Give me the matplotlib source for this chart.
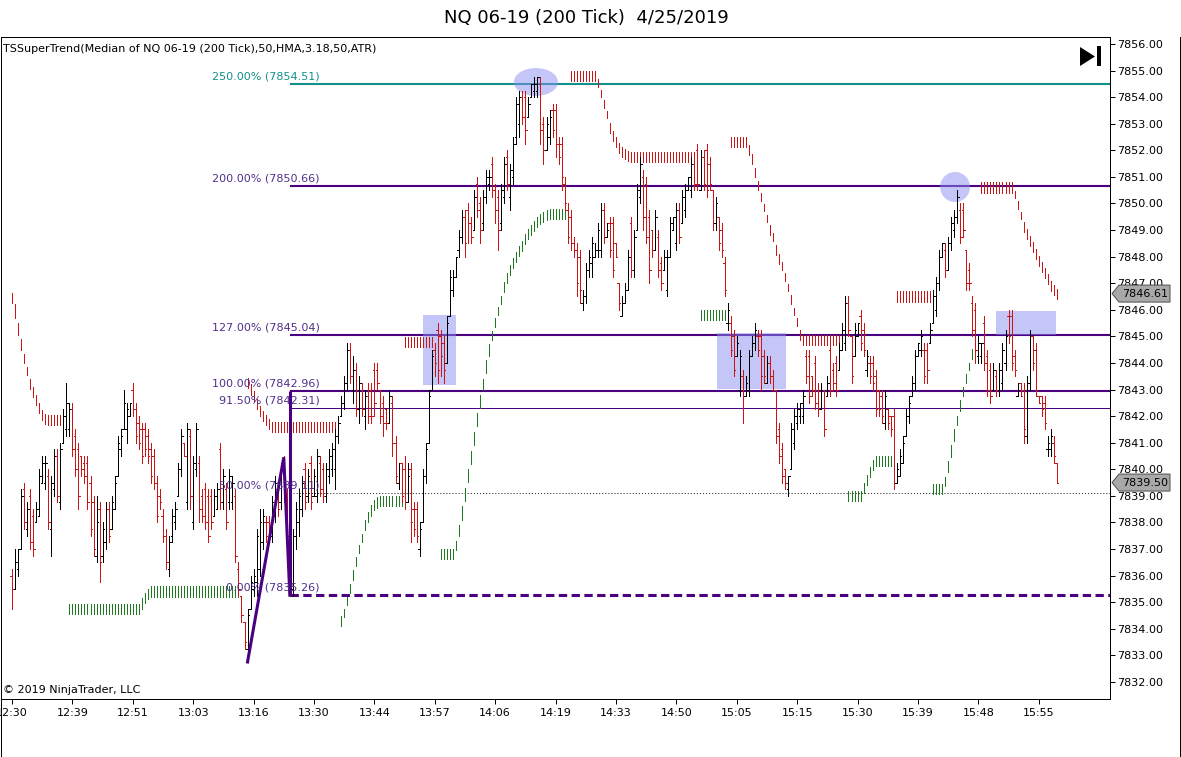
import numpy as np
import matplotlib.pyplot as plt
from matplotlib.collections import LineCollection
from matplotlib.patches import Rectangle, Ellipse, Polygon
from matplotlib.lines import Line2D
from matplotlib.transforms import blended_transform_factory

W, H = 1181, 757
plt.rcParams['font.family'] = ['DejaVu Sans']
plt.rcParams['lines.scale_dashes'] = False

# ---- 200 tick bars (open, high, low, close) ----
opens = [
    7836.0, 7835.5, 7836.25, 7837.0, 7839.25, 7837.75, 7839.0, 7838.25, 7838.0, 7838.25,
    7839.5, 7839.5, 7839.75, 7837.75, 7839.25, 7840.5, 7838.75, 7841.0, 7841.5, 7841.5,
    7842.25, 7841.25, 7840.75, 7840.5, 7840.25, 7840.25, 7839.5, 7838.75, 7836.75, 7838.5,
    7836.75, 7837.25, 7838.5, 7837.75, 7838.5, 7839.75, 7840.75, 7841.5, 7841.5, 7842.0,
    7843.0, 7842.25, 7841.75, 7841.5, 7841.5, 7841.25, 7840.75, 7840.5, 7839.5, 7839.0,
    7838.25, 7837.5, 7836.25, 7837.5, 7838.0, 7839.0, 7840.0, 7841.0, 7838.75, 7841.25,
    7838.0, 7840.0, 7840.25, 7839.0, 7839.25, 7839.0, 7839.0, 7838.25, 7838.5, 7840.75,
    7838.75, 7839.25, 7838.75, 7838.75, 7839.0, 7836.25, 7835.25, 7834.25, 7833.25, 7834.75,
    7835.5, 7835.75, 7836.25, 7837.25, 7838.0, 7838.0, 7837.5, 7838.25, 7839.25, 7838.75,
    7840.25, 7839.0, 7837.5, 7835.5, 7837.5, 7838.0, 7838.5, 7840.0, 7839.0, 7840.25,
    7839.0, 7839.0, 7840.25, 7840.0, 7839.0, 7839.75, 7840.0, 7840.0, 7841.25, 7842.0,
    7842.5, 7843.25, 7844.5, 7843.0, 7843.75, 7842.25, 7843.0, 7842.0, 7842.75, 7843.0,
    7843.75, 7843.75, 7843.0, 7842.5, 7842.25, 7841.75, 7842.5, 7841.0, 7839.5, 7840.25,
    7840.0, 7838.75, 7840.0, 7838.5, 7838.5, 7837.0, 7838.0, 7839.75, 7841.0, 7843.0,
    7844.5, 7845.25, 7845.0, 7844.75, 7844.0, 7845.75, 7846.75, 7847.25, 7848.25, 7848.75,
    7849.5, 7849.75, 7849.25, 7849.0, 7850.75, 7850.0, 7849.25, 7850.25, 7850.75, 7851.5,
    7850.5, 7850.25, 7849.25, 7850.25, 7851.75, 7850.25, 7851.0, 7852.5, 7853.0, 7854.0,
    7854.0, 7853.25, 7854.0, 7854.25, 7854.25, 7854.5, 7853.0, 7852.0, 7852.5, 7853.5,
    7853.5, 7852.25, 7852.25, 7850.75, 7849.75, 7849.5, 7848.5, 7848.25, 7848.0, 7846.25,
    7846.5, 7847.5, 7847.75, 7848.0, 7848.25, 7848.25, 7849.75, 7848.75, 7849.25, 7849.25,
    7848.5, 7847.0, 7845.75, 7846.25, 7846.75, 7849.25, 7847.5, 7849.0, 7850.25, 7851.0,
    7850.75, 7849.5, 7849.0, 7848.25, 7848.75, 7847.75, 7847.5, 7846.75, 7848.0, 7849.0,
    7848.5, 7849.75, 7849.25, 7849.75, 7850.5, 7850.5, 7851.5, 7852.0, 7850.5, 7851.75,
    7852.0, 7851.5, 7850.5, 7849.25, 7849.5, 7849.0, 7847.75, 7845.5, 7845.5, 7845.0,
    7844.25, 7843.0, 7843.5, 7842.75, 7843.0, 7844.25, 7844.75, 7845.0, 7845.0, 7844.25,
    7843.25, 7844.0, 7843.5, 7843.0, 7841.5, 7840.75, 7840.0, 7839.25, 7840.0, 7841.0,
    7841.75, 7842.0, 7842.0, 7844.25, 7844.25, 7843.5, 7844.0, 7843.0, 7842.25, 7843.0,
    7842.75, 7844.5, 7843.75, 7844.0, 7843.75, 7844.5, 7844.75, 7846.25, 7845.0, 7844.25,
    7845.0, 7845.75, 7845.25, 7843.75, 7844.0, 7844.0, 7843.5, 7843.0, 7842.75, 7841.75,
    7842.25, 7842.0, 7842.0, 7839.5, 7839.75, 7840.25, 7841.25, 7842.0, 7842.75, 7843.25,
    7844.25, 7844.5, 7844.5, 7844.5, 7844.75, 7845.5, 7846.0, 7847.0, 7848.0, 7848.25,
    7847.5, 7848.5, 7849.0, 7849.5, 7849.75, 7849.75, 7848.25, 7847.5, 7846.25, 7846.0,
    7844.25, 7844.25, 7845.5, 7844.25, 7843.75, 7843.0, 7843.5, 7843.0, 7843.25, 7844.0,
    7845.75, 7845.75, 7844.25, 7842.75, 7843.25, 7843.0, 7841.25, 7843.25, 7845.0, 7844.5,
    7842.75, 7842.75, 7842.5, 7840.75, 7840.75, 7841.0, 7840.25,
]
highs = [
    7836.25, 7837.0, 7837.0, 7839.25, 7839.5, 7838.75, 7839.25, 7838.5, 7838.75, 7840.0,
    7840.5, 7840.5, 7840.0, 7839.75, 7840.75, 7840.75, 7841.0, 7842.25, 7843.25, 7842.5,
    7842.5, 7841.5, 7841.0, 7840.5, 7840.5, 7840.5, 7839.75, 7839.0, 7839.0, 7838.75,
    7838.0, 7838.75, 7838.75, 7839.0, 7839.75, 7841.25, 7841.5, 7843.0, 7842.5, 7842.5,
    7843.25, 7842.5, 7842.0, 7841.75, 7841.75, 7841.5, 7841.0, 7840.75, 7839.75, 7839.25,
    7838.5, 7837.75, 7837.5, 7838.5, 7838.75, 7840.25, 7841.5, 7841.0, 7841.75, 7841.5,
    7840.5, 7841.75, 7840.5, 7839.25, 7839.5, 7839.25, 7839.25, 7839.25, 7839.5, 7841.0,
    7840.0, 7839.5, 7840.0, 7839.75, 7839.25, 7836.5, 7835.25, 7834.25, 7834.75, 7836.0,
    7836.25, 7837.75, 7838.5, 7838.5, 7838.25, 7838.25, 7839.0, 7839.75, 7839.5, 7840.25,
    7840.5, 7839.25, 7838.0, 7837.75, 7838.75, 7839.25, 7839.75, 7840.25, 7840.0, 7840.5,
    7840.0, 7840.75, 7840.5, 7840.25, 7840.25, 7840.75, 7841.0, 7841.5, 7842.0, 7842.75,
    7843.5, 7844.75, 7844.75, 7844.25, 7844.0, 7843.5, 7843.25, 7843.0, 7843.25, 7843.25,
    7844.0, 7844.0, 7843.0, 7842.75, 7842.25, 7843.0, 7842.75, 7841.25, 7840.25, 7840.25,
    7840.5, 7840.25, 7840.25, 7838.75, 7838.75, 7838.0, 7840.0, 7841.0, 7843.0, 7844.5,
    7844.75, 7845.5, 7845.25, 7845.0, 7845.75, 7847.5, 7847.5, 7848.0, 7849.0, 7849.75,
    7849.75, 7850.0, 7849.5, 7850.5, 7851.0, 7850.25, 7850.5, 7851.25, 7851.25, 7851.75,
    7850.75, 7850.5, 7850.75, 7851.75, 7852.0, 7851.5, 7852.5, 7854.0, 7854.25, 7854.25,
    7854.25, 7854.0, 7854.5, 7854.75, 7854.75, 7854.75, 7853.25, 7853.25, 7853.5, 7853.75,
    7853.75, 7852.5, 7852.5, 7851.0, 7850.0, 7849.75, 7848.75, 7848.5, 7848.25, 7846.75,
    7847.75, 7848.25, 7848.75, 7848.5, 7849.25, 7850.0, 7850.0, 7849.25, 7849.5, 7849.5,
    7848.5, 7847.0, 7846.5, 7847.0, 7848.25, 7849.5, 7849.0, 7850.75, 7851.75, 7851.25,
    7851.0, 7849.75, 7849.0, 7849.75, 7849.0, 7848.0, 7848.25, 7848.25, 7849.5, 7849.5,
    7850.0, 7850.0, 7850.5, 7850.75, 7851.0, 7851.75, 7851.75, 7852.25, 7852.0, 7852.0,
    7852.25, 7851.75, 7850.5, 7850.25, 7849.5, 7849.25, 7848.0, 7846.25, 7845.75, 7845.25,
    7845.0, 7844.5, 7843.75, 7843.5, 7844.5, 7845.0, 7845.5, 7845.25, 7845.25, 7844.5,
    7844.25, 7844.25, 7843.75, 7843.0, 7841.75, 7841.0, 7840.0, 7839.75, 7841.75, 7842.25,
    7842.5, 7842.5, 7843.0, 7844.5, 7844.5, 7843.5, 7844.25, 7843.25, 7843.25, 7843.0,
    7843.5, 7844.75, 7844.0, 7844.25, 7844.75, 7845.5, 7846.5, 7846.5, 7845.0, 7845.5,
    7845.5, 7846.0, 7845.5, 7844.5, 7844.25, 7844.25, 7843.75, 7843.0, 7843.0, 7843.0,
    7842.25, 7842.0, 7842.25, 7840.25, 7840.75, 7841.25, 7842.25, 7842.75, 7843.5, 7844.5,
    7844.75, 7845.25, 7844.75, 7844.75, 7845.5, 7846.75, 7847.25, 7848.25, 7848.5, 7848.5,
    7848.75, 7849.5, 7849.75, 7850.5, 7850.0, 7850.0, 7848.25, 7847.75, 7846.5, 7846.25,
    7845.0, 7844.75, 7845.75, 7844.5, 7844.0, 7844.0, 7843.75, 7844.0, 7844.75, 7845.25,
    7846.0, 7846.0, 7844.5, 7843.25, 7843.25, 7843.25, 7843.5, 7845.25, 7845.0, 7844.75,
    7842.75, 7842.75, 7842.75, 7841.25, 7841.5, 7841.25, 7840.25,
]
lows = [
    7834.75, 7835.5, 7836.0, 7837.0, 7837.75, 7837.5, 7837.0, 7836.75, 7838.0, 7838.25,
    7839.5, 7839.25, 7837.75, 7836.75, 7839.0, 7838.75, 7838.5, 7841.0, 7841.25, 7841.25,
    7840.5, 7839.75, 7838.5, 7839.75, 7839.5, 7838.5, 7837.5, 7836.75, 7836.5, 7835.75,
    7836.5, 7837.0, 7837.25, 7837.75, 7838.5, 7839.75, 7840.5, 7841.5, 7841.0, 7842.0,
    7842.0, 7841.0, 7840.75, 7840.25, 7840.5, 7840.25, 7839.5, 7839.25, 7838.0, 7838.5,
    7837.25, 7836.25, 7836.0, 7837.25, 7837.75, 7839.0, 7839.75, 7840.5, 7838.5, 7838.5,
    7837.75, 7839.75, 7838.0, 7838.0, 7837.75, 7837.25, 7837.75, 7838.25, 7838.5, 7838.5,
    7838.5, 7837.75, 7838.5, 7838.5, 7836.5, 7835.25, 7834.25, 7833.25, 7832.75, 7834.75,
    7835.25, 7835.25, 7836.0, 7837.0, 7837.25, 7837.25, 7837.25, 7838.0, 7838.25, 7838.5,
    7838.75, 7837.25, 7835.25, 7835.25, 7837.0, 7837.5, 7838.25, 7838.5, 7838.75, 7838.5,
    7839.0, 7838.75, 7839.0, 7838.75, 7838.75, 7839.5, 7839.75, 7839.25, 7841.0, 7842.0,
    7842.25, 7843.0, 7843.25, 7842.5, 7842.0, 7841.75, 7842.0, 7841.5, 7841.75, 7841.75,
    7842.0, 7843.0, 7841.75, 7841.25, 7841.5, 7841.75, 7840.5, 7839.5, 7839.25, 7838.75,
    7838.5, 7838.75, 7837.25, 7837.5, 7837.25, 7836.75, 7838.0, 7839.5, 7841.0, 7843.0,
    7843.5, 7843.25, 7843.5, 7843.25, 7844.0, 7845.75, 7846.5, 7847.25, 7848.0, 7848.5,
    7848.0, 7848.5, 7848.5, 7849.0, 7849.5, 7848.5, 7849.0, 7850.0, 7850.5, 7850.25,
    7849.25, 7848.25, 7849.0, 7850.0, 7850.5, 7849.75, 7850.75, 7852.25, 7852.5, 7853.0,
    7852.25, 7853.25, 7854.0, 7854.0, 7854.0, 7852.25, 7851.5, 7852.0, 7852.25, 7852.5,
    7851.75, 7851.5, 7850.5, 7849.75, 7848.5, 7848.25, 7848.0, 7846.5, 7846.25, 7846.0,
    7846.25, 7847.25, 7847.25, 7848.0, 7848.0, 7848.0, 7848.5, 7848.75, 7848.0, 7847.25,
    7848.0, 7846.0, 7845.75, 7846.25, 7846.75, 7847.25, 7847.25, 7849.0, 7850.0, 7849.0,
    7848.5, 7847.0, 7848.0, 7848.25, 7847.25, 7846.75, 7847.5, 7846.5, 7848.0, 7849.0,
    7848.25, 7848.5, 7849.25, 7849.5, 7850.5, 7850.25, 7850.5, 7850.5, 7850.5, 7850.5,
    7850.25, 7850.5, 7849.0, 7849.0, 7848.25, 7848.0, 7846.5, 7845.25, 7844.25, 7843.5,
    7844.25, 7842.75, 7841.75, 7842.75, 7842.75, 7844.25, 7844.5, 7844.25, 7843.0, 7843.25,
    7843.25, 7843.25, 7843.0, 7841.0, 7840.25, 7839.5, 7839.25, 7839.0, 7840.0, 7840.75,
    7841.5, 7841.75, 7841.75, 7843.25, 7842.5, 7842.75, 7842.25, 7842.0, 7842.25, 7841.25,
    7842.75, 7842.75, 7843.0, 7842.75, 7843.75, 7844.5, 7844.5, 7845.0, 7843.25, 7844.25,
    7845.0, 7844.5, 7844.25, 7843.5, 7843.25, 7843.0, 7842.0, 7842.0, 7841.75, 7841.5,
    7841.5, 7841.25, 7839.25, 7839.5, 7839.75, 7840.25, 7841.25, 7841.75, 7842.75, 7843.0,
    7844.25, 7844.25, 7843.25, 7843.25, 7844.75, 7845.5, 7845.75, 7846.75, 7848.0, 7847.25,
    7847.5, 7848.25, 7848.75, 7849.25, 7848.5, 7848.75, 7846.75, 7846.75, 7845.0, 7844.0,
    7844.0, 7844.0, 7843.75, 7842.75, 7842.5, 7843.0, 7842.75, 7842.75, 7843.0, 7843.75,
    7844.75, 7843.75, 7843.5, 7842.75, 7842.75, 7841.0, 7841.0, 7843.0, 7843.75, 7842.75,
    7842.5, 7842.0, 7841.5, 7840.5, 7840.5, 7840.25, 7839.5,
]
closes = [
    7835.5, 7836.5, 7837.0, 7839.0, 7838.0, 7838.5, 7837.25, 7837.0, 7838.5, 7839.75,
    7840.25, 7840.25, 7838.0, 7839.5, 7840.5, 7839.0, 7840.75, 7842.0, 7842.5, 7842.25,
    7840.75, 7840.0, 7839.0, 7840.0, 7839.75, 7838.75, 7837.75, 7837.0, 7838.0, 7836.5,
    7837.75, 7838.5, 7837.5, 7838.75, 7839.5, 7841.0, 7841.25, 7842.5, 7842.25, 7842.5,
    7842.25, 7841.25, 7841.0, 7840.5, 7840.75, 7840.5, 7839.75, 7839.5, 7838.25, 7838.75,
    7837.5, 7836.5, 7837.25, 7838.25, 7838.5, 7840.0, 7841.25, 7840.5, 7841.5, 7839.0,
    7840.25, 7841.5, 7838.5, 7838.25, 7838.0, 7837.5, 7838.0, 7839.0, 7839.25, 7838.75,
    7839.75, 7838.0, 7839.75, 7839.5, 7836.75, 7835.5, 7834.5, 7833.5, 7834.5, 7835.75,
    7836.0, 7837.5, 7838.0, 7838.25, 7837.5, 7837.5, 7838.75, 7839.5, 7838.5, 7840.0,
    7839.0, 7837.5, 7835.5, 7837.5, 7838.5, 7839.0, 7839.5, 7838.75, 7839.75, 7838.75,
    7839.75, 7840.5, 7839.25, 7839.0, 7840.0, 7840.5, 7840.75, 7841.25, 7841.75, 7842.5,
    7843.25, 7844.5, 7843.5, 7843.75, 7842.25, 7843.25, 7842.25, 7842.75, 7842.0, 7842.0,
    7842.5, 7843.25, 7842.0, 7841.75, 7841.75, 7842.75, 7841.0, 7839.75, 7840.25, 7839.0,
    7838.75, 7839.75, 7838.0, 7837.75, 7837.5, 7837.75, 7839.75, 7840.75, 7842.75, 7844.25,
    7844.0, 7843.75, 7844.25, 7843.75, 7845.5, 7847.25, 7847.25, 7848.0, 7848.75, 7849.5,
    7848.5, 7849.25, 7848.75, 7850.25, 7849.75, 7849.0, 7850.25, 7851.0, 7851.0, 7850.5,
    7849.75, 7849.0, 7850.5, 7851.5, 7850.75, 7851.25, 7852.25, 7853.75, 7854.0, 7853.25,
    7852.75, 7853.75, 7854.5, 7854.5, 7854.75, 7852.75, 7852.0, 7853.0, 7853.25, 7852.75,
    7852.25, 7851.75, 7851.0, 7850.0, 7848.75, 7848.5, 7848.25, 7847.0, 7846.75, 7846.5,
    7847.5, 7848.0, 7848.5, 7848.25, 7849.0, 7849.75, 7848.75, 7849.0, 7848.25, 7847.5,
    7848.0, 7846.25, 7846.25, 7846.75, 7848.0, 7847.5, 7848.75, 7850.5, 7851.5, 7849.5,
    7848.75, 7847.5, 7848.25, 7849.5, 7847.5, 7847.0, 7848.0, 7848.0, 7849.25, 7849.5,
    7849.75, 7848.75, 7850.25, 7850.5, 7851.0, 7851.5, 7850.75, 7850.75, 7851.75, 7850.75,
    7850.5, 7850.75, 7849.25, 7850.0, 7848.5, 7848.25, 7846.75, 7846.0, 7844.5, 7843.75,
    7844.75, 7844.25, 7842.75, 7843.25, 7844.25, 7844.75, 7845.25, 7844.5, 7843.5, 7843.5,
    7844.0, 7843.5, 7843.0, 7841.25, 7840.5, 7839.75, 7839.5, 7839.75, 7841.5, 7842.0,
    7842.25, 7842.5, 7842.75, 7843.5, 7842.75, 7843.0, 7842.5, 7842.25, 7843.0, 7841.5,
    7843.25, 7843.0, 7843.25, 7843.0, 7844.5, 7845.25, 7846.25, 7845.25, 7843.5, 7845.25,
    7845.5, 7844.75, 7844.5, 7844.25, 7843.5, 7843.25, 7842.25, 7842.25, 7842.0, 7842.75,
    7841.75, 7841.5, 7839.5, 7840.0, 7840.5, 7841.0, 7842.0, 7842.5, 7843.25, 7844.25,
    7844.75, 7845.0, 7843.5, 7843.75, 7845.25, 7846.5, 7847.0, 7848.0, 7848.5, 7847.5,
    7848.5, 7849.25, 7849.5, 7850.25, 7848.75, 7849.0, 7847.0, 7847.0, 7845.25, 7844.5,
    7844.75, 7844.75, 7844.0, 7843.0, 7842.75, 7843.75, 7843.0, 7843.75, 7844.5, 7845.0,
    7845.0, 7844.0, 7843.75, 7843.25, 7842.75, 7841.5, 7843.25, 7845.0, 7844.0, 7843.0,
    7842.5, 7842.25, 7841.75, 7841.0, 7841.25, 7840.5, 7839.5,
]

# ---- TSSuperTrend runs: (side, first bar, values) ----
st_dn1 = [7846.45, 7845.7, 7845.05, 7844.5, 7844.0, 7843.55, 7843.2, 7842.9, 7842.6,
          7842.3, 7842.05, 7841.9, 7841.85, 7841.85, 7841.85, 7841.85, 7841.85]
st_up1 = [7834.75] * 24 + [7834.95, 7835.15, 7835.3] + [7835.4] * 30
st_dn2 = [7843.25, 7843.0, 7842.75, 7842.45, 7842.2, 7842.0, 7841.85, 7841.7] + [7841.6] * 22
st_up2 = [7834.3, 7834.75, 7835.2, 7835.7, 7836.2, 7836.7, 7837.15, 7837.55, 7837.9,
          7838.2, 7838.45, 7838.65, 7838.75] + [7838.8] * 8
st_dn3 = [7844.8] * 10
st_up3 = [7836.8] * 5 + [7837.3, 7837.9, 7838.6, 7839.3, 7840.0, 7840.7, 7841.4, 7842.1,
          7842.8, 7843.4, 7844.1, 7844.7, 7845.2, 7845.7, 7846.1, 7846.5, 7846.85, 7847.2,
          7847.5, 7847.75, 7848.0, 7848.2, 7848.4, 7848.65, 7848.85, 7849.0, 7849.15,
          7849.3, 7849.4, 7849.5, 7849.55] + [7849.6] * 7
st_dn4 = [7854.8] * 9 + [7854.4, 7854.0, 7853.6, 7853.2, 7852.85, 7852.55, 7852.3, 7852.1,
          7851.95, 7851.85, 7851.8] + [7851.75] * 23
st_up4 = [7845.8] * 9
st_dn5 = [7852.3] * 6 + [7852.0, 7851.5, 7851.0, 7850.5, 7850.1, 7849.7, 7849.3, 7849.0,
          7848.6, 7848.25, 7847.9, 7847.5, 7847.1, 7846.7, 7846.2, 7845.8, 7845.4,
          7845.05] + [7844.85] * 15
st_up5 = [7839.0] * 5 + [7839.3, 7839.6, 7839.9, 7840.15] + [7840.3] * 7
st_dn6 = [7846.5] * 12
st_up6 = [7839.25] * 4 + [7839.7, 7840.3, 7840.9, 7841.5, 7842.0, 7842.6, 7843.1, 7843.6,
          7844.0, 7844.35, 7844.6]
st_dn7 = [7850.6] * 11 + [7850.2, 7849.8, 7849.4, 7849.1, 7848.85, 7848.6, 7848.35, 7848.1,
          7847.85, 7847.6, 7847.4, 7847.15, 7846.9, 7846.75, 7846.61]
st_runs = [("dn", 0, st_dn1), ("up", 19, st_up1), ("dn", 78, st_dn2), ("up", 109, st_up2),
           ("dn", 130, st_dn3), ("up", 142, st_up3), ("dn", 185, st_dn4), ("up", 228, st_up4),
           ("dn", 238, st_dn5), ("up", 277, st_up5), ("dn", 293, st_dn6), ("up", 305, st_up6),
           ("dn", 321, st_dn7)]

# ---- Fibonacci extension (zigzag A-B-C) ----
zz_bars = [78, 90, 92]
zz_prices = [7832.75, 7840.45, 7835.26]
fib_base = 7835.26
fib_range = 7.70
fib_pcts = [2.5, 2.0, 1.27, 1.0, 0.915, 0.5, 0.0]

# ---- drawn markup: rectangles (bar0, bar1, price0, price1), ellipses (bar, price, w, h) ----
boxes = [(136.1, 147.0, 7843.17, 7845.8), (233.4, 256.3, 7843.02, 7845.13),
         (325.8, 345.7, 7845.05, 7845.95)]
circles = [(173.5, 7854.57, 14.6, 1.05), (312.3, 7850.62, 9.9, 1.13)]

time_labels = ["12:30", "12:39", "12:51", "13:03", "13:16", "13:30", "13:44", "13:57",
               "14:06", "14:19", "14:33", "14:50", "15:05", "15:15", "15:30", "15:39",
               "15:48", "15:55"]
price_ticks = list(range(7832, 7857))

RED = '#cc1414'
GREEN = '#1f7a1f'
INDIGO = '#4b0082'
TEAL = '#14908a'
LABEL_PURPLE = '#50308c'
PX = 0.72  # one pixel in points

o = np.array(opens); h = np.array(highs); l = np.array(lows); c = np.array(closes)
x = np.arange(len(c))

fig = plt.figure(figsize=(W / 100, H / 100), dpi=100)
ax = fig.add_axes([1 / W, 1 - 699 / H, 1109 / W, 662 / H])
ax.set_xlim(-3.64, 363.6)
ax.set_ylim(7831.357, 7856.263)

# bars
cols = [('black' if cc >= oo else RED) for oo, cc in zip(o, c)]
tk = 0.5
segs = []
seg_cols = []
for i in range(len(c)):
    segs += [[(x[i], l[i]), (x[i], h[i])], [(x[i] - tk, o[i]), (x[i], o[i])],
             [(x[i], c[i]), (x[i] + tk, c[i])]]
    seg_cols += [cols[i]] * 3
ax.add_collection(LineCollection(segs, colors=seg_cols, linewidths=PX, zorder=4,
                                 antialiaseds=False))

# supertrend
for side, start, vals in st_runs:
    ss = []
    for k, v in enumerate(vals):
        xb = start + k
        if k > 0 and abs(vals[k - 1] - v) > 0.38:
            ss.append([(xb, v), (xb, v + (vals[k - 1] - v) * 0.7)])
        else:
            ss.append([(xb, v - 0.19), (xb, v + 0.19)])
    ax.add_collection(LineCollection(ss, colors=RED if side == "dn" else GREEN,
                                     linewidths=PX, zorder=3, antialiaseds=False))

# fib lines
x0 = zz_bars[-1]
x1 = 364
for p in fib_pcts:
    lev = fib_base + p * fib_range
    if p == 2.5:
        ax.hlines(lev, x0, x1, colors=TEAL, linewidth=1.5, zorder=2)
        col = TEAL
    elif p == 0.915:
        ax.hlines(lev, x0, x1, colors=INDIGO, linewidth=PX, zorder=2)
        col = LABEL_PURPLE
    elif p == 0.5:
        ax.plot([x0, x1], [lev, lev], color='#333333', linewidth=PX,
                dashes=(0.8, 1.4), zorder=2)
        col = LABEL_PURPLE
    elif p == 0.0:
        ax.plot([x0, x1], [lev, lev], color=INDIGO, linewidth=2.2,
                dashes=(6, 3.2), zorder=2)
        col = LABEL_PURPLE
    else:
        ax.hlines(lev, x0, x1, colors=INDIGO, linewidth=1.5, zorder=2)
        col = LABEL_PURPLE
    ax.text(x0 + 9.9, lev + 0.09, "%.2f%% (%.2f)" % (p * 100, lev), color=col,
            fontsize=8, ha='right', va='bottom', zorder=6)

ax.plot([x0, x0], [fib_base, fib_base + fib_range], color=INDIGO, linewidth=2.2, zorder=5,
        solid_capstyle='butt')
ax.plot(zz_bars, zz_prices, color=INDIGO, linewidth=2.2, zorder=5, solid_joinstyle='miter')

for b0, b1, p0, p1 in boxes:
    ax.add_patch(Rectangle((b0, p0), b1 - b0, p1 - p0, facecolor='#8a8ff0', alpha=0.5,
                           edgecolor='none', zorder=2.5))
for bc, pc, bw, ph in circles:
    ax.add_patch(Ellipse((bc, pc), bw, ph, facecolor='#8a8ff0', alpha=0.5,
                         edgecolor='none', zorder=2.5))

# axes styling
for s in ax.spines.values():
    s.set_linewidth(PX)
ax.yaxis.tick_right()
ax.set_yticks(price_ticks)
ax.set_yticklabels(["%.2f" % p for p in price_ticks])
ax.set_xticks(np.arange(0, 20 * len(time_labels), 20))
ax.set_xticklabels(time_labels)
ax.tick_params(axis='y', direction='out', length=3.6, width=PX, labelsize=8, pad=1.5)
ax.tick_params(axis='x', direction='out', length=3.6, width=PX, labelsize=8, pad=3)

# last value tags on the price scale
trans = blended_transform_factory(fig.transFigure, ax.transData)
for val in [st_dn7[-1], closes[-1]]:
    hh = 0.32
    tag = Polygon([(1112 / W, val), (1119 / W, val + hh), (1170 / W, val + hh),
                   (1170 / W, val - hh), (1119 / W, val - hh)], closed=True,
                  transform=trans, facecolor='#a8a8a8', edgecolor='#505050',
                  linewidth=PX, clip_on=False, zorder=10)
    ax.add_patch(tag)
    ax.text(1145 / W, val, "%.2f" % val, transform=trans, fontsize=8, ha='center',
            va='center', clip_on=False, zorder=11)

# texts
fig.text(586 / W, 1 - 18 / H, "NQ 06-19 (200 Tick)  4/25/2019", fontsize=13,
         ha='center', va='center')
fig.text(3 / W, 1 - 49 / H, "TSSuperTrend(Median of NQ 06-19 (200 Tick),50,HMA,3.18,50,ATR)",
         fontsize=8, ha='left', va='center')
fig.text(3 / W, 1 - 690 / H, "\u00a9 2019 NinjaTrader, LLC", fontsize=8, ha='left',
         va='center')

# play-to-end button
fig.add_artist(Polygon([(1080 / W, 1 - 47 / H), (1080 / W, 1 - 66 / H), (1095 / W, 1 - 56.5 / H)],
                       closed=True, transform=fig.transFigure, facecolor='black',
                       edgecolor='none'))
fig.add_artist(Rectangle((1097 / W, 1 - 66 / H), 4 / W, 20 / H, transform=fig.transFigure,
                         facecolor='black', edgecolor='none'))

# outer frame
for xs, ys in [([0.5 / W, 0.5 / W], [0, 1 - 37 / H]),
               ([1179.5 / W, 1179.5 / W], [0, 1 - 37 / H]),
               ([0, 1], [0.5 / H, 0.5 / H])]:
    fig.add_artist(Line2D(xs, ys, color='black', linewidth=PX, transform=fig.transFigure))

fig.savefig("out.png", dpi=100)
